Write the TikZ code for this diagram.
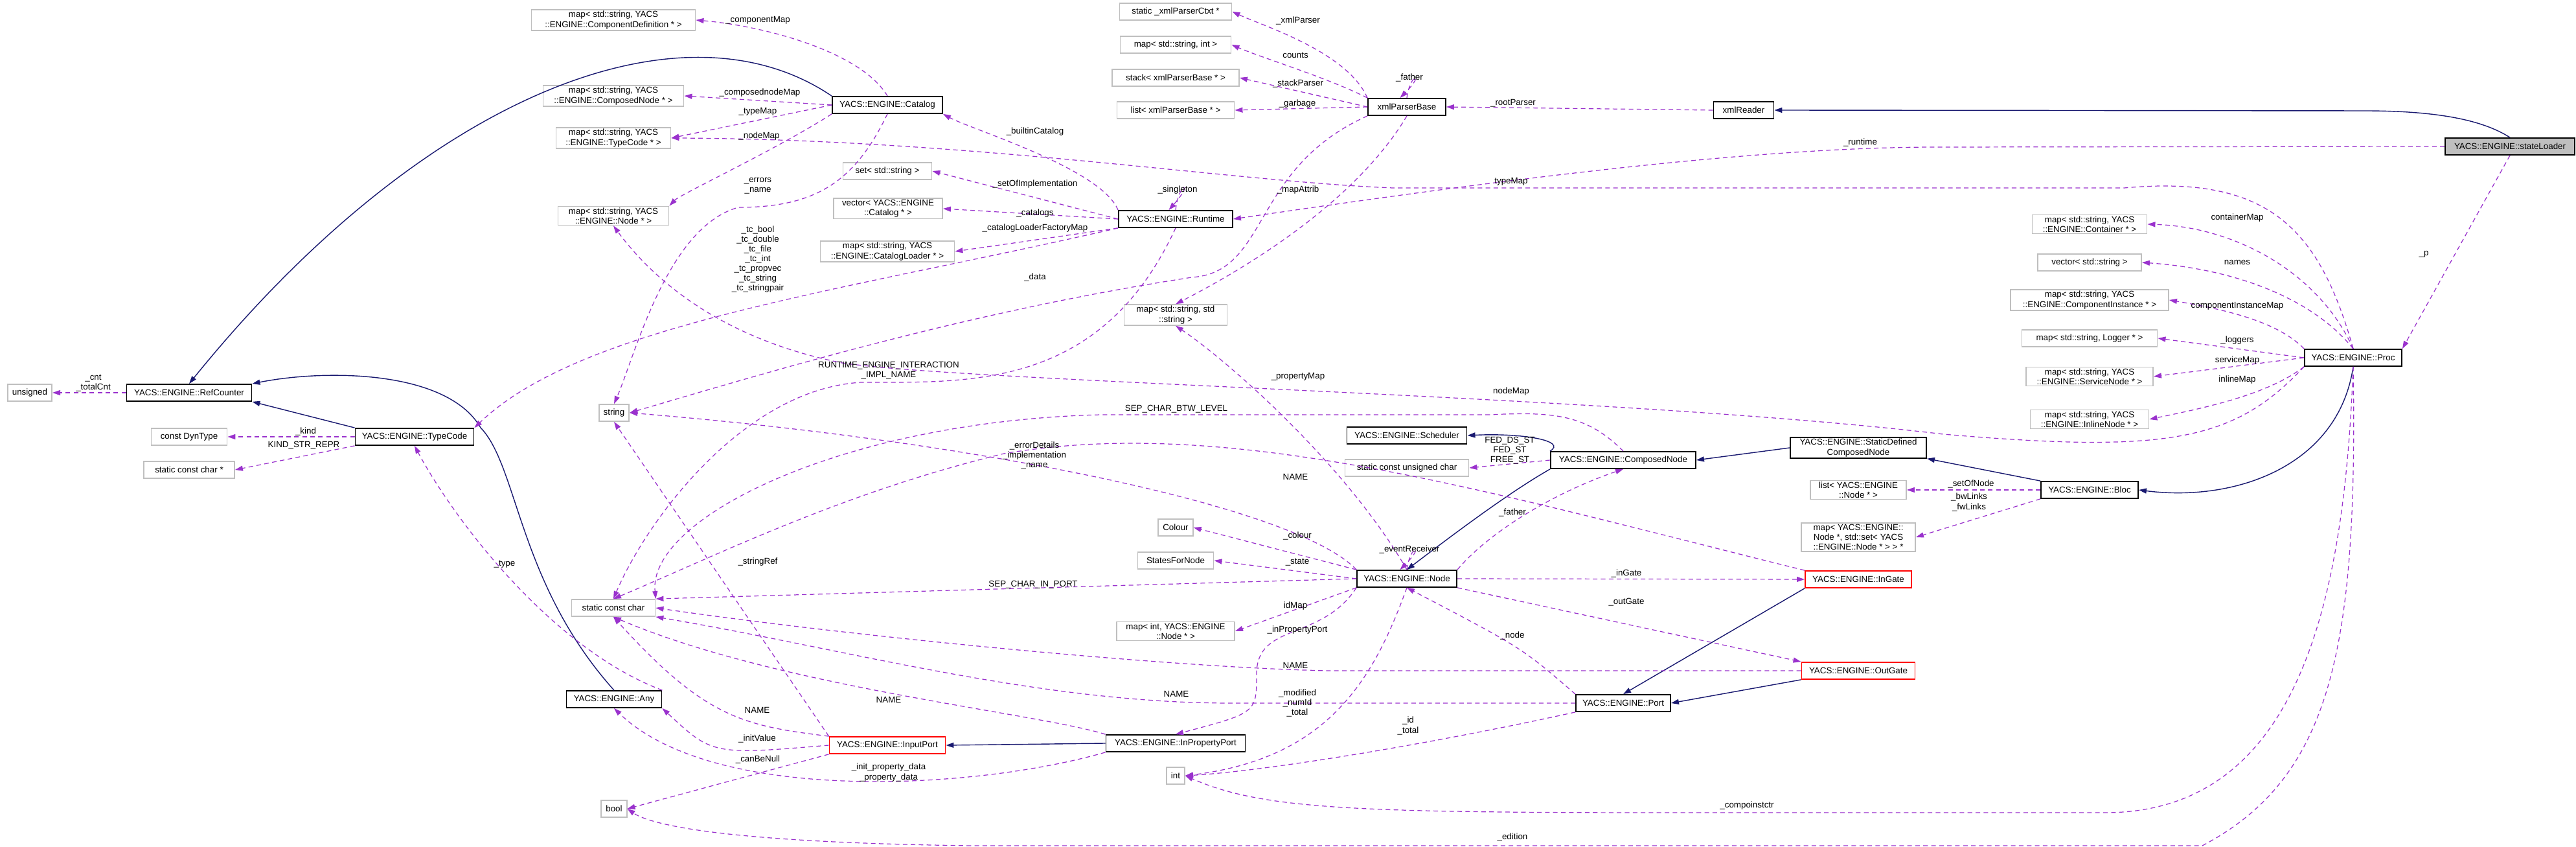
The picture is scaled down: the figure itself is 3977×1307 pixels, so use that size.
\documentclass[tikz,border=0pt]{standalone}
\usepackage{fontspec}
\setmainfont{Liberation Sans}
\usetikzlibrary{arrows.meta}
\definecolor{dep}{HTML}{9A32CD}
\definecolor{inh}{HTML}{191970}
\definecolor{ext}{HTML}{BFBFBF}
\newcommand{\LT}{\textless}
\newcommand{\GT}{\textgreater}
\begin{document}
\begin{tikzpicture}[x=0.01cm,y=-0.01cm,
 box/.style={draw=black,line width=0.5pt,minimum height=0.26cm,inner xsep=0.07cm,inner ysep=0.02cm,font=\fontsize{3.8}{4.3}\selectfont,align=center,fill=white},
 cls/.style={box},
 ex/.style={box,draw=ext},
 rd/.style={box,draw=red},
 cur/.style={box,fill=ext},
 lb/.style={font=\fontsize{3.8}{4.3}\selectfont,align=center,inner sep=0pt},
 d/.style={draw=dep,dashed,dash pattern=on 2pt off 1.5pt,line width=0.35pt,-{Triangle[length=0.12cm,width=0.08cm,fill=dep]}},
 h/.style={draw=inh,line width=0.4pt,-{Triangle[length=0.12cm,width=0.08cm,fill=inh]}}]
\path[use as bounding box,fill=white] (0,0) rectangle (3977,1307);
% nodes
\node[ex,minimum width=2.53cm] (cdm) at (947,31) {map\LT{} std::string, YACS\\::ENGINE::ComponentDefinition * \GT};
\node[ex,minimum width=2.17cm] (cnm) at (947,148) {map\LT{} std::string, YACS\\::ENGINE::ComposedNode * \GT};
\node[ex,minimum width=1.77cm] (tcm) at (947,213) {map\LT{} std::string, YACS\\::ENGINE::TypeCode * \GT};
\node[ex,minimum width=1.71cm] (nm) at (947,333) {map\LT{} std::string, YACS\\::ENGINE::Node * \GT};
\node[ex] (uns) at (46,606) {unsigned};
\node[cls,minimum width=1.93cm] (rc) at (292,606) {YACS::ENGINE::RefCounter};
\node[ex] (str) at (948,637) {string};
\node[cls,minimum width=1.70cm] (cat) at (1370,162) {YACS::ENGINE::Catalog};
\node[ex,minimum width=1.73cm] (ctx) at (1815,18) {static \_xmlParserCtxt *};
\node[ex,minimum width=1.71cm] (msi) at (1815,69) {map\LT{} std::string, int \GT};
\node[ex,minimum width=1.96cm] (stk) at (1815,120) {stack\LT{} xmlParserBase * \GT};
\node[ex,minimum width=1.81cm] (lst) at (1815,170) {list\LT{} xmlParserBase * \GT};
\node[cls,minimum width=1.20cm] (xpb) at (2172,165) {xmlParserBase};
\node[cls,minimum width=0.93cm] (xr) at (2692,170) {xmlReader};
\node[ex,minimum width=1.37cm] (set) at (1370,264) {set\LT{} std::string \GT};
\node[ex,minimum width=1.68cm] (vc) at (1371,322) {vector\LT{} YACS::ENGINE\\::Catalog * \GT};
\node[ex,minimum width=2.07cm] (mcl) at (1370,388) {map\LT{} std::string, YACS\\::ENGINE::CatalogLoader * \GT};
\node[cls,minimum width=1.76cm] (rt) at (1815,338) {YACS::ENGINE::Runtime};
\node[ex,minimum width=1.59cm] (mss) at (1815,486) {map\LT{} std::string, std\\::string \GT};
\node[cur,minimum width=2.0cm] (sl) at (3875,226) {YACS::ENGINE::stateLoader};
\node[ex,minimum width=1.77cm] (mco) at (3226,346) {map\LT{} std::string, YACS\\::ENGINE::Container * \GT};
\node[ex,minimum width=1.60cm] (vs) at (3226,405) {vector\LT{} std::string \GT};
\node[ex,minimum width=2.44cm] (mci) at (3226,463) {map\LT{} std::string, YACS\\::ENGINE::ComponentInstance * \GT};
\node[ex,minimum width=2.09cm] (mlg) at (3226,522) {map\LT{} std::string, Logger * \GT};
\node[ex,minimum width=1.96cm] (msn) at (3226,581) {map\LT{} std::string, YACS\\::ENGINE::ServiceNode * \GT};
\node[ex,minimum width=1.83cm] (min) at (3226,647) {map\LT{} std::string, YACS\\::ENGINE::InlineNode * \GT};
\node[cls,minimum width=1.50cm] (proc) at (3633,552) {YACS::ENGINE::Proc};
\node[cls,minimum width=1.83cm] (tc) at (640,674) {YACS::ENGINE::TypeCode};
\node[ex,minimum width=1.17cm] (dyn) at (292,674) {const DynType};
\node[ex,minimum width=1.40cm] (scp) at (292,725) {static const char *};
\node[ex,minimum width=1.29cm] (scc) at (947,938) {static const char};
\node[cls,minimum width=1.47cm] (any) at (948,1079) {YACS::ENGINE::Any};
\node[ex] (bool) at (948,1248) {bool};
\node[rd,minimum width=1.79cm] (ip) at (1370,1150) {YACS::ENGINE::InputPort};
\node[cls,minimum width=1.85cm] (sch) at (2172,672) {YACS::ENGINE::Scheduler};
\node[ex,minimum width=1.91cm] (suc) at (2172,722) {static const unsigned char};
\node[cls,minimum width=2.24cm] (cn) at (2506,710) {YACS::ENGINE::ComposedNode};
\node[ex] (col) at (1815,814) {Colour};
\node[ex,minimum width=1.17cm] (sfn) at (1815,865) {StatesForNode};
\node[cls,minimum width=1.54cm] (node) at (2172,893) {YACS::ENGINE::Node};
\node[ex,minimum width=1.82cm] (mid) at (1815,974) {map\LT{} int, YACS::ENGINE\\::Node * \GT};
\node[cls,minimum width=1.46cm] (port) at (2506,1085) {YACS::ENGINE::Port};
\node[cls,minimum width=2.15cm] (ipp) at (1815,1147) {YACS::ENGINE::InPropertyPort};
\node[ex] (int) at (1815,1197) {int};
\node[cls,minimum width=2.10cm] (sdc) at (2869,691) {YACS::ENGINE::StaticDefined\\ComposedNode};
\node[ex,minimum width=1.48cm] (ln) at (2869,756) {list\LT{} YACS::ENGINE\\::Node * \GT};
\node[ex,minimum width=1.76cm] (mns) at (2869,829) {map\LT{} YACS::ENGINE::\\Node *, std::set\LT{} YACS\\::ENGINE::Node * \GT{} \GT{} *};
\node[cls,minimum width=1.50cm] (bloc) at (3226,756) {YACS::ENGINE::Bloc};
\node[rd,minimum width=1.64cm] (ig) at (2869,894) {YACS::ENGINE::InGate};
\node[rd,minimum width=1.75cm] (og) at (2869,1035) {YACS::ENGINE::OutGate};
% inheritance
\draw[h] (cat.north west) .. controls (1050,-10) and (650,150) .. (rc.north);
\draw[h] (tc.north west) -- (rc.south east);
\draw[h] (any.north) .. controls (800,900) and (800,720) .. (742,660) .. controls (690,570) and (500,570) .. (rc.north east);
\draw[h] (sl.north) .. controls (3840,190) and (3780,171) .. (3650,171) -- (xr.east);
\draw[h] (ipp.west) -- (ip.east);
\draw[h] (ig.south west) -- (port.north);
\draw[h] (og.south west) -- (port.east);
\draw[h] (cn.south west) .. controls (2330,760) and (2250,820) .. (node.north);
\draw[h] (cn.north west) .. controls (2420,680) and (2350,668) .. (sch.east);
\draw[h] (sdc.west) -- (cn.east);
\draw[h] (bloc.north west) -- (sdc.south east);
\draw[h] (proc.south) .. controls (3610,720) and (3450,775) .. (bloc.east);
% dependencies
\draw[d] (rc.west) -- (uns.east);
\draw[d] (cat.north) .. controls (1330,80) and (1180,40) .. (cdm.east);
\draw[d] (cat.west) -- (cnm.east);
\draw[d] (cat.west) -- (tcm.east);
\draw[d] (cat.south west) .. controls (1200,230) and (1050,300) .. (nm.north east);
\draw[d] (cat.south) .. controls (1320,280) and (1260,320) .. (1140,320) .. controls (1030,350) and (980,550) .. (str.north);
\draw[d] (rt.north west) .. controls (1700,260) and (1500,200) .. (cat.south east);
\draw[d] (rt.west) -- (set.east);
\draw[d] (rt.west) -- (vc.east);
\draw[d] (rt.south west) -- (mcl.east);
\draw[d] (rt.north) .. controls +(5,-45) and +(40,-45) .. ([xshift=-3pt]rt.north);
\draw[d] (rt.south west) .. controls (1300,450) and (900,500) .. (tc.north east);
\draw[d] (rt.south) .. controls (1700,600) and (1500,590) .. (1330,590) .. controls (1150,600) and (1000,800) .. (scc.north);
\draw[d] (xpb.north west) .. controls (2080,80) and (1950,40) .. (ctx.east);
\draw[d] (xpb.north west) .. controls (2050,120) and (1950,90) .. (msi.east);
\draw[d] (xpb.west) -- (stk.east);
\draw[d] (xpb.west) -- (lst.east);
\draw[d] (xpb.north) .. controls +(5,-40) and +(40,-40) .. ([xshift=-3pt]xpb.north);
\draw[d] (xpb.south) .. controls (2100,300) and (1950,400) .. (mss.north);
\draw[d] (xpb.south west) .. controls (1930,260) and (1960,420) .. (1840,428) .. controls (1500,480) and (1200,570) .. (str.east);
\draw[d] (xr.west) -- (xpb.east);
\draw[d] (sl.west) -- (2990,227) .. controls (2700,227) and (2300,280) .. (rt.east);
\draw[d] (sl.south) -- (proc.north east);
\draw[d] (proc.north) .. controls (3580,350) and (3500,270) .. (3280,290) -- (2150,290) .. controls (1900,280) and (1500,215) .. (tcm.east);
\draw[d] (proc.north) .. controls (3580,420) and (3450,350) .. (mco.east);
\draw[d] (proc.north) .. controls (3570,460) and (3450,415) .. (vs.east);
\draw[d] (proc.north west) .. controls (3520,500) and (3450,480) .. (mci.east);
\draw[d] (proc.west) -- (mlg.east);
\draw[d] (proc.west) -- (msn.east);
\draw[d] (proc.south west) .. controls (3500,610) and (3400,630) .. (min.east);
\draw[d] (proc.south west) .. controls (3450,680) and (3350,700) .. (3000,670) .. controls (2500,610) and (1500,590) .. (1300,560) .. controls (1100,520) and (1000,420) .. (nm.south);
\draw[d] (proc.south) .. controls (3620,900) and (3560,1254) .. (3250,1254) -- (2600,1254) .. controls (2100,1254) and (1950,1250) .. (int.east);
\draw[d] (proc.south) .. controls (3640,1000) and (3600,1200) .. (3400,1305) -- (1500,1305) .. controls (1100,1300) and (1000,1270) .. (bool.east);
\draw[d] (tc.west) -- (dyn.east);
\draw[d] (tc.south west) -- (scp.east);
\draw[d] (any.north east) .. controls (850,1000) and (700,800) .. (tc.south);
\draw[d] (node.north east) .. controls (2300,820) and (2400,760) .. (cn.south);
\draw[d] (node.north) .. controls +(5,-40) and +(40,-40) .. ([xshift=-3pt]node.north);
\draw[d] (node.north west) -- (col.east);
\draw[d] (node.west) -- (sfn.east);
\draw[d] (node.south west) -- (mid.east);
\draw[d] (node.east) -- (ig.west);
\draw[d] (node.south east) -- (og.north west);
\draw[d] (node.south west) .. controls (2040,990) and (1940,960) .. (1940,1040) .. controls (1940,1100) .. (ipp.north);
\draw[d] (node.south) .. controls (2120,1050) and (2050,1170) .. (int.east);
\draw[d] (node.west) -- (scc.north east);
\draw[d] (node.north) .. controls (2080,720) and (1900,560) .. (mss.south);
\draw[d] (node.north west) .. controls (2000,780) and (1500,680) .. (str.east);
\draw[d] (cn.west) -- (suc.east);
\draw[d] (cn.north) .. controls (2450,640) and (2400,635) .. (2300,640) -- (1700,640) .. controls (1300,650) and (1000,800) .. (scc.north east);
\draw[d] (ig.north west) .. controls (2300,760) and (1900,640) .. (1550,700) .. controls (1300,760) and (1100,860) .. (scc.north);
\draw[d] (og.west) -- (2050,1035) .. controls (1800,1030) and (1300,980) .. (scc.east);
\draw[d] (port.north west) .. controls (2350,1000) .. (node.south);
\draw[d] (port.south west) .. controls (2200,1150) and (1950,1190) .. (int.east);
\draw[d] (port.west) -- (1900,1085) .. controls (1600,1085) and (1300,1000) .. (scc.south east);
\draw[d] (bloc.west) -- (ln.east);
\draw[d] (bloc.south west) -- (mns.east);
\draw[d] (ipp.north west) .. controls (1600,1100) and (1200,1060) .. (scc.south);
\draw[d] (ipp.south west) .. controls (1500,1220) and (1100,1240) .. (any.south);
\draw[d] (ip.north west) .. controls (1150,1120) and (1090,1110) .. (scc.south);
\draw[d] (ip.north west) -- (str.south);
\draw[d] (ip.west) .. controls (1100,1165) .. (any.south east);
\draw[d] (ip.south west) -- (bool.east);
% labels
\node[lb] (l1) at (144,591) {\_cnt\\\_totalCnt};
\node[lb] at (1170,31) {\_componentMap};
\node[lb] at (1173,143) {\_composednodeMap};
\node[lb] at (1170,172) {\_typeMap};
\node[lb] at (1172,210) {\_nodeMap};
\node[lb] at (1170,287) {\_errors\\\_name};
\node[lb] at (1170,400) {\_tc\_bool\\\_tc\_double\\\_tc\_file\\\_tc\_int\\\_tc\_propvec\\\_tc\_string\\\_tc\_stringpair};
\node[lb] at (1372,572) {RUNTIME\_ENGINE\_INTERACTION\\\_IMPL\_NAME};
\node[lb] at (2004,32) {\_xmlParser};
\node[lb] at (2000,85) {counts};
\node[lb] at (2176,120) {\_father};
\node[lb] at (2004,129) {\_stackParser};
\node[lb] at (2003,160) {\_garbage};
\node[lb] at (2336,159) {\_rootParser};
\node[lb] at (1598,203) {\_builtinCatalog};
\node[lb] at (2333,280) {typeMap};
\node[lb] at (1598,284) {\_setOfImplementation};
\node[lb] at (1818,293) {\_singleton};
\node[lb] at (2004,293) {\_mapAttrib};
\node[lb] at (1598,329) {\_catalogs};
\node[lb] at (1598,352) {\_catalogLoaderFactoryMap};
\node[lb] at (1598,428) {\_data};
\node[lb] at (2004,581) {\_propertyMap};
\node[lb] at (2333,604) {nodeMap};
\node[lb] at (1816,631) {SEP\_CHAR\_BTW\_LEVEL};
\node[lb] at (2872,220) {\_runtime};
\node[lb] at (3454,336) {containerMap};
\node[lb] at (3454,405) {names};
\node[lb] at (3454,472) {componentInstanceMap};
\node[lb] at (3454,525) {\_loggers};
\node[lb] at (3454,556) {serviceMap};
\node[lb] at (3454,586) {inlineMap};
\node[lb] at (3742,392) {\_p};
\node[lb] at (472,666) {\_kind};
\node[lb] at (469,687) {KIND\_STR\_REPR};
\node[lb] at (779,871) {\_type};
\node[lb] at (1170,867) {\_stringRef};
\node[lb] at (1169,1096) {NAME};
\node[lb] at (1169,1140) {\_initValue};
\node[lb] at (1170,1172) {\_canBeNull};
\node[lb] at (1372,1192) {\_init\_property\_data\\\_property\_data};
\node[lb] at (1597,703) {\_errorDetails\\\_implementation\\\_name};
\node[lb] at (2000,736) {NAME};
\node[lb] at (2331,695) {FED\_DS\_ST\\FED\_ST\\FREE\_ST};
\node[lb] at (2335,791) {\_father};
\node[lb] at (2003,827) {\_colour};
\node[lb] at (2176,848) {\_eventReceiver};
\node[lb] at (2003,868) {\_state};
\node[lb] at (1595,902) {SEP\_CHAR\_IN\_PORT};
\node[lb] at (2511,885) {\_inGate};
\node[lb] at (2000,935) {idMap};
\node[lb] at (2511,929) {\_outGate};
\node[lb] at (2003,972) {\_inPropertyPort};
\node[lb] at (2335,981) {\_node};
\node[lb] at (2000,1027) {NAME};
\node[lb] at (1816,1071) {NAME};
\node[lb] at (1372,1080) {NAME};
\node[lb] at (2003,1085) {\_modified\\\_numId\\\_total};
\node[lb] at (2174,1120) {\_id\\\_total};
\node[lb] at (2335,1292) {\_edition};
\node[lb] at (2697,1243) {\_compoinstctr};
\node[lb] at (3043,747) {\_setOfNode};
\node[lb] at (3040,775) {\_bwLinks\\\_fwLinks};
\end{tikzpicture}
\end{document}
